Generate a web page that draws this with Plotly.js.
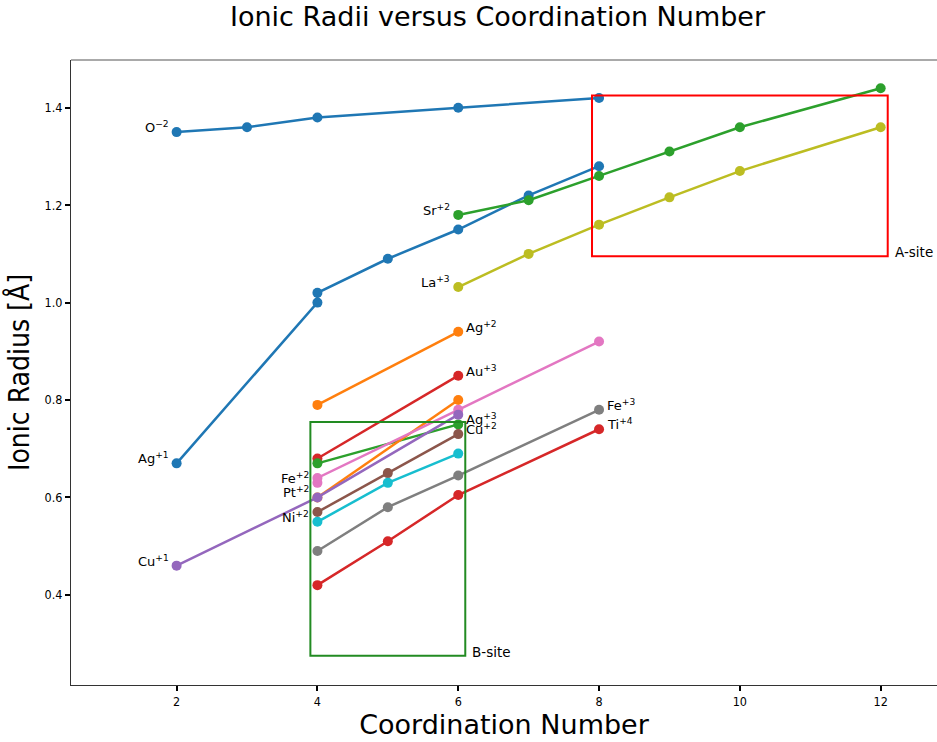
<!DOCTYPE html>
<html>
<head>
<meta charset="utf-8">
<script src="https://cdn.plot.ly/plotly-3.0.1.min.js"></script>
<style>html,body{margin:0;padding:0;background:#fff;}#chart{width:937px;height:742px;}</style>
</head>
<body>
<div id="chart"></div>
<script>
// ---- data (coordination number, ionic radius in Å) ----
const o2_cn   = [2, 3, 4, 6, 8];
const o2_r    = [1.35, 1.36, 1.38, 1.40, 1.42];
const ag1_cn  = [2, 4, 4, 5, 6, 7, 8];
const ag1_r   = [0.67, 1.00, 1.02, 1.09, 1.15, 1.22, 1.28];
const sr2_cn  = [6, 7, 8, 9, 10, 12];
const sr2_r   = [1.18, 1.21, 1.26, 1.31, 1.36, 1.44];
const la3_cn  = [6, 7, 8, 9, 10, 12];
const la3_r   = [1.032, 1.10, 1.16, 1.216, 1.27, 1.36];
const ag2_cn  = [4, 6];
const ag2_r   = [0.79, 0.94];
const au3_cn  = [4, 6];
const au3_r   = [0.68, 0.85];
const ag3_cn  = [4, 6];
const ag3_r   = [0.67, 0.75];
const cu2_cn  = [4, 5, 6];
const cu2_r   = [0.57, 0.65, 0.73];
const pt2_cn  = [4, 6];
const pt2_r   = [0.60, 0.80];
const fe2_cn  = [4, 4, 6, 8];
const fe2_r   = [0.63, 0.64, 0.78, 0.92];
const cu1_cn  = [2, 4, 6];
const cu1_r   = [0.46, 0.60, 0.77];
const ni2_cn  = [4, 5, 6];
const ni2_r   = [0.55, 0.63, 0.69];
const fe3_cn  = [4, 5, 6, 8];
const fe3_r   = [0.49, 0.58, 0.645, 0.78];
const ti4_cn  = [4, 5, 6, 8];
const ti4_r   = [0.42, 0.51, 0.605, 0.74];

const ionNames = ["O<sup>−2</sup>", "Ag<sup>+1</sup>", "Sr<sup>+2</sup>", "La<sup>+3</sup>", "Ag<sup>+2</sup>", "Au<sup>+3</sup>",
                  "Ag<sup>+3</sup>", "Cu<sup>+2</sup>", "Pt<sup>+2</sup>", "Fe<sup>+2</sup>", "Cu<sup>+1</sup>", "Ni<sup>+2</sup>",
                  "Fe<sup>+3</sup>", "Ti<sup>+4</sup>"];
const xTicks = [2, 4, 6, 8, 10, 12];
const yTicks = [0.4, 0.6, 0.8, 1.0, 1.2, 1.4];
// site boxes: [x0, x1, y0, y1]
const aSiteBox = [7.9, 12.1, 1.095, 1.425];
const bSiteBox = [3.9, 6.1, 0.275, 0.755];

// ---- styling ----
const series = [
  {x: o2_cn,  y: o2_r,  c: "#1f77b4", side: "left"},
  {x: ag1_cn, y: ag1_r, c: "#1f77b4", side: "left"},
  {x: sr2_cn, y: sr2_r, c: "#2ca02c", side: "left"},
  {x: la3_cn, y: la3_r, c: "#bcbd22", side: "left"},
  {x: ag2_cn, y: ag2_r, c: "#ff7f0e", side: "right"},
  {x: au3_cn, y: au3_r, c: "#d62728", side: "right"},
  {x: ag3_cn, y: ag3_r, c: "#2ca02c", side: "right"},
  {x: cu2_cn, y: cu2_r, c: "#8c564b", side: "right"},
  {x: pt2_cn, y: pt2_r, c: "#ff7f0e", side: "left"},
  {x: fe2_cn, y: fe2_r, c: "#e377c2", side: "left"},
  {x: cu1_cn, y: cu1_r, c: "#9467bd", side: "left"},
  {x: ni2_cn, y: ni2_r, c: "#17becf", side: "left"},
  {x: fe3_cn, y: fe3_r, c: "#7f7f7f", side: "right"},
  {x: ti4_cn, y: ti4_r, c: "#d62728", side: "right"}
];

const FONT = "DejaVu Sans, sans-serif";
const FONT_C = "DejaVu Sans Condensed, DejaVu Sans, sans-serif";

const traces = series.map((s, i) => ({
  type: "scatter", mode: "lines+markers",
  x: s.x, y: s.y, name: ionNames[i],
  line: {color: s.c, width: 2.5},
  marker: {color: s.c, size: 10},
  showlegend: false, hoverinfo: "x+y+name"
}));

const annotations = series.map((s, i) => {
  const left = s.side === "left";
  const k = left ? 0 : s.x.length - 1;
  return {
    x: s.x[k], y: s.y[k], xref: "x", yref: "y",
    text: ionNames[i], showarrow: false,
    xanchor: left ? "right" : "left", yanchor: "middle",
    xshift: left ? -6 : 6, yshift: 5,
    font: {family: FONT, size: 13, color: "#000"}
  };
});
annotations.push({x: aSiteBox[1], y: aSiteBox[2], xref: "x", yref: "y", text: "A-site", showarrow: false,
  xanchor: "left", yanchor: "middle", xshift: 5, yshift: 4, font: {family: FONT, size: 13.5, color: "#000"}});
annotations.push({x: bSiteBox[1], y: bSiteBox[2], xref: "x", yref: "y", text: "B-site", showarrow: false,
  xanchor: "left", yanchor: "middle", xshift: 5, yshift: 4, font: {family: FONT, size: 13.5, color: "#000"}});

const shapes = [
  {type: "rect", xref: "x", yref: "y", x0: aSiteBox[0], x1: aSiteBox[1], y0: aSiteBox[2], y1: aSiteBox[3],
   line: {color: "#ff0000", width: 2}, fillcolor: "rgba(0,0,0,0)", layer: "above"},
  {type: "rect", xref: "x", yref: "y", x0: bSiteBox[0], x1: bSiteBox[1], y0: bSiteBox[2], y1: bSiteBox[3],
   line: {color: "#228b22", width: 2}, fillcolor: "rgba(0,0,0,0)", layer: "above"},
  {type: "line", xref: "paper", yref: "paper", x0: 0, x1: 1, y0: 1, y1: 1, line: {color: "#555", width: 1}}
];

const layout = {
  width: 937, height: 742,
  margin: {l: 71, r: 0, t: 60, b: 57},
  paper_bgcolor: "#fff", plot_bgcolor: "#fff",
  title: {text: "Ionic Radii versus Coordination Number", x: 0.531, xanchor: "center", y: 0.99, yanchor: "top",
          font: {family: FONT, size: 27, color: "#000"}},
  xaxis: {range: [0.5, 12.8], tickvals: xTicks, ticktext: xTicks.map(String),
          showgrid: false, zeroline: false, showline: true, linecolor: "#333", linewidth: 1,
          ticks: "outside", ticklen: 5, tickwidth: 2, tickcolor: "#000",
          tickfont: {family: FONT_C, size: 12.5, color: "#000"},
          title: {text: "Coordination Number", font: {family: FONT, size: 27, color: "#000"}, standoff: 3}},
  yaxis: {range: [0.215, 1.498], tickvals: yTicks, ticktext: yTicks.map(v => v.toFixed(1)),
          showgrid: false, zeroline: false, showline: true, linecolor: "#333", linewidth: 1,
          ticks: "outside", ticklen: 5, tickwidth: 2, tickcolor: "#000",
          tickfont: {family: FONT_C, size: 12.5, color: "#000"},
          title: {text: "Ionic Radius [Å]", font: {family: FONT_C, size: 28, color: "#000"}, standoff: 6}},
  annotations: annotations,
  shapes: shapes,
  showlegend: false
};

Plotly.newPlot("chart", traces, layout, {displayModeBar: false, staticPlot: true});
</script>
</body>
</html>
